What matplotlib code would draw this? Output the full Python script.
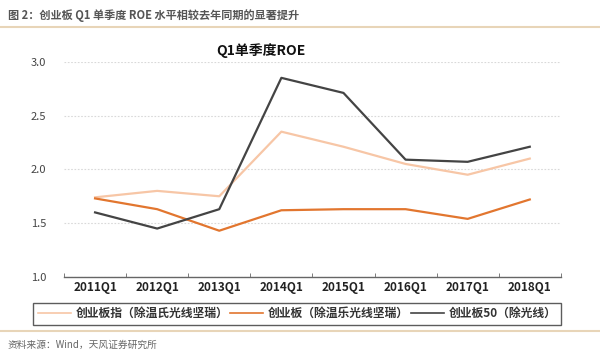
import matplotlib
matplotlib.use('Agg')
import matplotlib.pyplot as plt
from matplotlib.lines import Line2D

plt.rcParams['font.family'] = ['Noto Sans CJK SC', 'DejaVu Sans']

# Datos
quarters = ['2011Q1', '2012Q1', '2013Q1', '2014Q1', '2015Q1', '2016Q1', '2017Q1', '2018Q1']
roe_index_ex = [1.74, 1.80, 1.75, 2.35, 2.21, 2.05, 1.95, 2.10]
roe_board_ex = [1.73, 1.63, 1.43, 1.62, 1.63, 1.63, 1.54, 1.72]
roe_gem50_ex = [1.60, 1.45, 1.63, 2.85, 2.71, 2.09, 2.07, 2.21]
series_names = ['创业板指（除温氏光线坚瑞）', '创业板（除温乐光线坚瑞）', '创业板50（除光线）']

c_light = '#F7C6A6'
c_orange = '#E2762F'
c_dark = '#444444'

fig = plt.figure(figsize=(6.0, 3.56), dpi=100)
ax = fig.add_axes([0.1067, 0.2219, 0.828, 0.6048])

x = range(len(quarters))
ax.plot(x, roe_index_ex, color=c_light, lw=1.6, label=series_names[0])
ax.plot(x, roe_board_ex, color=c_orange, lw=1.6, label=series_names[1])
ax.plot(x, roe_gem50_ex, color=c_dark, lw=1.6, label=series_names[2])

ax.set_xlim(-0.5, len(quarters) - 0.5)
ax.set_ylim(1.0, 3.0)
ax.set_yticks([1.0, 1.5, 2.0, 2.5, 3.0])
ax.set_yticklabels(['1.0', '1.5', '2.0', '2.5', '3.0'])
ax.grid(axis='y', color='#D9D9D9', linestyle=(0, (1.5, 1.5)), linewidth=0.8)
ax.set_axisbelow(True)

ax.set_xticks(list(x))
ax.set_xticklabels(quarters, fontsize=8.5, fontweight='bold', color='#222222')
ax.set_xticks([i - 0.5 for i in range(len(quarters) + 1)], minor=True)
ax.tick_params(axis='x', which='major', length=0, pad=3)
ax.tick_params(axis='x', which='minor', direction='in', length=3, color='#666666')
ax.tick_params(axis='y', length=0, labelsize=8, labelcolor='#444444', pad=13)

for s in ['top', 'right', 'left']:
    ax.spines[s].set_visible(False)
ax.spines['bottom'].set_color('#666666')
ax.spines['bottom'].set_linewidth(1.0)

# Título del gráfico (desplazado a la izquierda como en el original)
fig.text(261 / 600, 1 - 51 / 356, 'Q1单季度ROE', fontsize=10, fontweight='bold',
         ha='center', va='center', color='#111111')

# Leyenda con marco
leg = fig.legend(loc='lower left', bbox_to_anchor=(33 / 600, 31 / 356, 528 / 600, 23 / 356),
                 mode='expand', ncol=3, frameon=True, fancybox=False,
                 handlelength=2.8, handletextpad=0.4, borderaxespad=0,
                 prop={'weight': 'bold', 'size': 8.5})
leg.get_frame().set_edgecolor('#333333')
leg.get_frame().set_linewidth(1.0)
for t in leg.get_texts():
    t.set_color('#333333')
for h in leg.get_lines():
    h.set_linewidth(1.2)

# Título superior y fuente
fig.text(8 / 600, 1 - 15 / 356, '图 2：创业板 Q1 单季度 ROE 水平相较去年同期的显著提升',
         fontsize=8, fontweight='bold', color='#555555', va='center', ha='left')
fig.add_artist(Line2D([0, 1], [1 - 27 / 356, 1 - 27 / 356], color='#E8D5B8', lw=1.5))
fig.add_artist(Line2D([0, 1], [1 - 331 / 356, 1 - 331 / 356], color='#E8D5B8', lw=1.5))
fig.text(8 / 600, 1 - 345 / 356, '资料来源：Wind，天风证券研究所',
         fontsize=7, color='#666666', va='center', ha='left')

fig.savefig('out.png', dpi=100, facecolor='white')
